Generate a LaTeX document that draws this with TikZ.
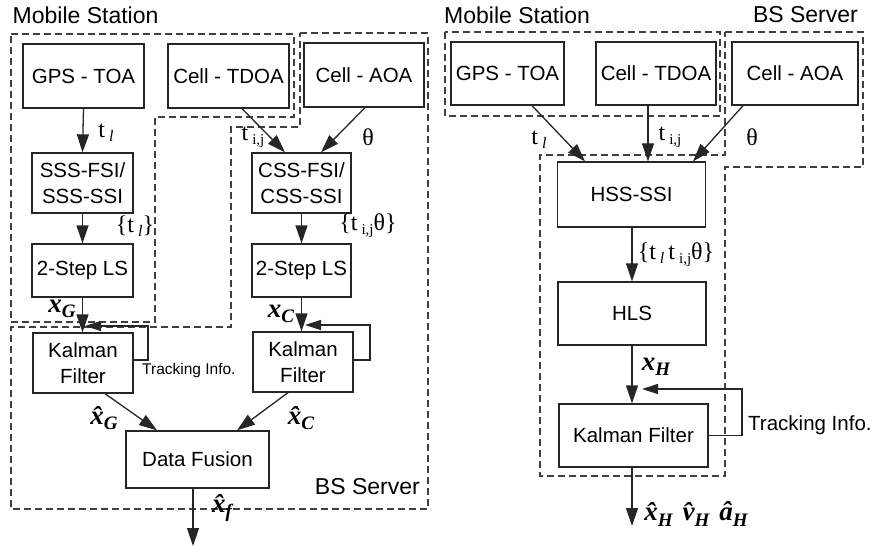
\documentclass[tikz,border=0pt]{standalone}
\usepackage{fontspec}
\setmainfont{Liberation Sans}
\newfontfamily\tms{Liberation Serif}
\usetikzlibrary{arrows.meta,calc}
\newcommand{\mytl}{t\,\raisebox{-0.35ex}{\fontsize{16}{16}\selectfont\itshape l}}
\newcommand{\mytij}{t\,\raisebox{-0.35ex}{\fontsize{15}{15}\selectfont i,j}}
\newcommand{\bsub}[1]{\raisebox{-0.45ex}{\fontsize{19}{19}\selectfont\bfseries\itshape #1}}
\newcommand{\bvar}[2]{{\bfseries\itshape #1}\bsub{#2}}
\newcommand{\hvar}[2]{{\bfseries\itshape\^{#1}}\bsub{#2}}
\tikzset{
 box/.style={draw=black!85, line width=1.3pt, fill=white, inner sep=0pt, align=center, font=\fontsize{20.5}{26}\selectfont},
 region/.style={draw=black!75, line width=1.2pt, dash pattern=on 7pt off 4pt},
 arr/.style={draw=black!85, line width=1.3pt, -{Triangle[length=18pt,width=12pt]}},
 fb/.style={draw=black!85, line width=1.3pt, -{Triangle[length=16pt,width=10pt]}},
 lbl/.style={inner sep=0pt, font=\fontsize{24}{26}\selectfont\tms},
 mlbl/.style={inner sep=0pt, font=\fontsize{27}{29}\selectfont\tms},
 ttl/.style={inner sep=0pt, font=\fontsize{23}{26}\selectfont},
}
\begin{document}
\begin{tikzpicture}[x=1pt,y=-1pt]
\useasboundingbox (0,0) rectangle (874,548);
% ---------- regions left
\draw[region] (11,34) -- (294,34) -- (294,117) -- (155,117) -- (155,322) -- (11,322) -- cycle;
\draw[region] (300,33) -- (428,33) -- (428,509) -- (11,509) -- (11,327) -- (231,327) -- (231,127) -- (300,127) -- cycle;
% ---------- regions right
\draw[region] (445,32) rectangle (720,116);
\draw[region] (725,32) -- (863,32) -- (863,167) -- (725,167) -- (725,476) -- (540,476) -- (540,155) -- (725,155) -- cycle;
% ---------- titles
\node[ttl, anchor=west] (ms1) at (12.5,15) {Mobile Station};
\node[ttl, anchor=west] (ms2) at (444,15) {Mobile Station};
\node[ttl, anchor=east] (bs2) at (858,15) {BS Server};
\node[ttl, anchor=east] (bs1) at (420,487) {BS Server};
% ---------- left boxes
\node[box, minimum width=121pt, minimum height=64pt] (gps1) at (83.5,76) {GPS - TOA};
\node[box, minimum width=121pt, minimum height=64pt] (tdoa1) at (228.5,76) {Cell - TDOA};
\node[box, minimum width=120pt, minimum height=64pt] (aoa1) at (364,75) {Cell - AOA};
\node[box, minimum width=101pt, minimum height=60pt] (sss) at (82.5,183) {SSS-FSI/\\SSS-SSI};
\node[box, minimum width=99pt, minimum height=60pt] (css) at (301.5,183) {CSS-FSI/\\CSS-SSI};
\node[box, minimum width=101pt, minimum height=53pt] (ls1) at (82.5,270.5) {2-Step LS};
\node[box, minimum width=99pt, minimum height=53pt] (ls2) at (301.5,270.5) {2-Step LS};
\node[box, minimum width=100pt, minimum height=60pt] (kf1) at (83,363) {Kalman\\Filter};
\node[box, minimum width=100pt, minimum height=60pt] (kf2) at (303,362) {Kalman\\Filter};
\node[box, minimum width=143pt, minimum height=57pt] (df) at (197.5,459.5) {Data Fusion};
% ---------- right boxes
\node[box, minimum width=113pt, minimum height=63pt] (gps2) at (507.5,73.5) {GPS - TOA};
\node[box, minimum width=120pt, minimum height=63pt] (tdoa2) at (656,73.5) {Cell - TDOA};
\node[box, minimum width=126pt, minimum height=63pt] (aoa2) at (795,73.5) {Cell - AOA};
\node[box, minimum width=148pt, minimum height=65pt] (hss) at (631.5,194.5) {HSS-SSI};
\node[box, minimum width=148pt, minimum height=63pt] (hls) at (632,313.5) {HLS};
\node[box, minimum width=149pt, minimum height=63pt] (kf3) at (633.5,435.5) {Kalman Filter};
% ---------- coordinates for free ends
\coordinate (out1) at (193,546);
\coordinate (out2) at (632,526);
\coordinate (fb1) at (85,326);
\coordinate (fb2) at (305,325);
\coordinate (fb3) at (642,389);
% ---------- left arrows
\draw[arr] (gps1.south) -- (sss.north);
\draw[arr] ($(tdoa1.south)+(13.5,0)$) -- ($(css.north)+(-16.5,0)$);
\draw[arr] ($(aoa1.south)+(1,0)$) -- ($(css.north)+(19.5,0)$);
\draw[arr] (sss.south) -- (ls1.north);
\draw[arr] (css.south) -- (ls2.north);
\draw[arr] (ls1.south) -- (ls1.south |- kf1.north);
\draw[arr] (ls2.south) -- (ls2.south |- kf2.north);
\draw[fb] ($(kf1.east)+(0,-3)$) -| (148,326) -- (fb1);
\draw[fb] ($(kf2.east)+(0,-2)$) -| (370,325) -- (fb2);
\draw[arr] ($(kf1.south)+(22,0)$) -- ($(df.north)+(-40.5,0)$);
\draw[arr] ($(kf2.south)+(-15,0)$) -- ($(df.north)+(39.5,0)$);
\draw[arr] ($(df.south)+(-4.5,0)$) -- (out1);
% ---------- right arrows
\draw[arr] ($(gps2.south)+(24.5,0)$) -- ($(hss.north)+(-46.5,0)$);
\draw[arr] ($(tdoa2.south)+(-8,0)$) -- ($(hss.north)+(16.5,0)$);
\draw[arr] ($(aoa2.south)+(-52,0)$) -- ($(hss.north)+(61.5,0)$);
\draw[arr] (hls.north |- hss.south) -- (hls.north);
\draw[arr] (hls.south) -- (hls.south |- kf3.north);
\draw[fb] (kf3.east) -| (742,389) -- (fb3);
\draw[arr] (kf3.south -| out2) -- (out2);
% ---------- left labels
\node[lbl] (l1) at (106,133) {\mytl};
\node[lbl] (l2) at (253,137) {\mytij};
\node[lbl] (l3) at (368,137) {θ};
\node[lbl] (l4) at (135,226) {\{\mytl\}};
\node[lbl] (l5) at (368,226) {\{\mytij θ\}};
\node[mlbl] (l6) at (62,309) {\bvar{x}{G}};
\node[mlbl] (l7) at (281,314) {\bvar{x}{C}};
\node[inner sep=0pt, font=\fontsize{15.5}{17}\selectfont, anchor=west] (l8) at (142,370) {Tracking Info.};
\node[mlbl] (l9) at (104,418) {\hvar{x}{G}};
\node[mlbl] (l10) at (301,418) {\hvar{x}{C}};
\node[mlbl] (l11) at (222,508) {\hvar{x}{f}};
% ---------- right labels
\node[lbl] (r1) at (539,140) {\mytl};
\node[lbl] (r2) at (670,137) {\mytij};
\node[lbl] (r3) at (752,137) {θ};
\node[lbl] (r4) at (676,255) {\{\mytl\,\mytij θ\}};
\node[mlbl] (r5) at (656,367) {\bvar{x}{H}};
\node[inner sep=0pt, font=\fontsize{20.5}{23}\selectfont, anchor=west] (r6) at (748,425) {Tracking Info.};
\node[mlbl] (r7) at (696,514) {\hvar{x}{H}\hspace{10pt}\hvar{v}{H}\hspace{10pt}\hvar{a}{H}};
\end{tikzpicture}
\end{document}
